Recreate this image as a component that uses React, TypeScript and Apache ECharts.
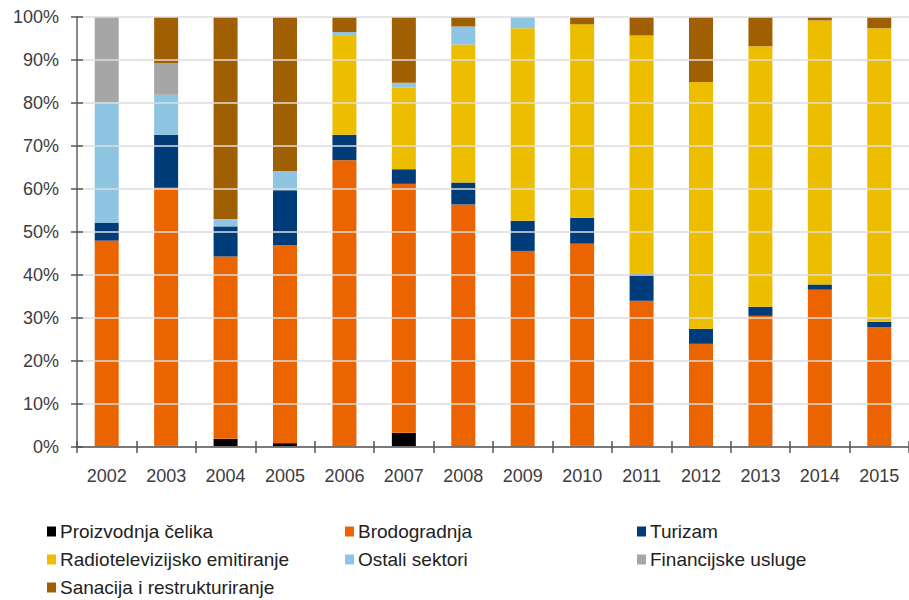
import React, { useEffect, useRef } from "react";
import * as echarts from "echarts";

const years = ["2002", "2003", "2004", "2005", "2006", "2007", "2008", "2009", "2010", "2011", "2012", "2013", "2014", "2015"];
const proizvodnjaCelika = [0, 0.3, 1.9, 0.9, 0, 3.3, 0, 0, 0.3, 0, 0, 0, 0, 0];
const brodogradnja = [48.0, 60.0, 42.4, 46.0, 66.7, 57.9, 56.4, 45.6, 47.0, 34.0, 24.0, 30.5, 36.6, 27.9];
const turizam = [4.1, 12.3, 7.0, 12.8, 5.9, 3.4, 5.1, 7.0, 6.0, 6.3, 3.5, 2.1, 1.2, 1.2];
const radiotelevizijsko = [0, 0, 0, 0, 23.0, 19.0, 32.1, 44.8, 45.0, 55.4, 57.4, 60.6, 61.4, 68.3];
const ostaliSektori = [28.1, 9.3, 1.7, 4.5, 0.9, 1.1, 4.2, 2.6, 0, 0, 0, 0, 0, 0];
const financijskeUsluge = [19.8, 7.4, 0, 0, 0, 0, 0, 0, 0, 0, 0, 0, 0, 0];
const sanacija = [0, 10.7, 47.0, 35.8, 3.5, 15.3, 2.2, 0, 1.7, 4.3, 15.1, 6.8, 0.8, 2.6];
const yTicks = [0, 10, 20, 30, 40, 50, 60, 70, 80, 90, 100];

const FONT = "'Liberation Sans', Arial, sans-serif";
const TXT = "#3c3c3c";

export default function App() {
  const ref = useRef<HTMLDivElement>(null);
  useEffect(() => {
    if (!ref.current) return;
    const chart = echarts.init(ref.current, undefined, { renderer: "svg" });
    const seriesDefs = [
      { name: "Proizvodnja čelika", data: proizvodnjaCelika, color: "#000000" },
      { name: "Brodogradnja", data: brodogradnja, color: "#EB6400" },
      { name: "Turizam", data: turizam, color: "#003B7A" },
      { name: "Radiotelevizijsko emitiranje", data: radiotelevizijsko, color: "#EDBD00" },
      { name: "Ostali sektori", data: ostaliSektori, color: "#8EC5E2" },
      { name: "Financijske usluge", data: financijskeUsluge, color: "#A6A6A6" },
      { name: "Sanacija i restrukturiranje", data: sanacija, color: "#A05F00" },
    ];
    const legendBase = {
      orient: "vertical" as const,
      top: 522,
      padding: 0,
      itemWidth: 9,
      itemHeight: 10,
      itemGap: 9,
      icon: "rect",
      textStyle: { fontFamily: FONT, fontSize: 19, color: "#222", padding: [0, 0, 0, -1] },
    };
    chart.setOption({
      animation: false,
      backgroundColor: "#ffffff",
      grid: { left: 77, right: -8, top: 17, bottom: 153, containLabel: false },
      legend: [
        { ...legendBase, left: 47, data: ["Proizvodnja čelika", "Radiotelevizijsko emitiranje", "Sanacija i restrukturiranje"] },
        { ...legendBase, left: 345, data: ["Brodogradnja", "Ostali sektori"] },
        { ...legendBase, left: 637, data: ["Turizam", "Financijske usluge"] },
      ],
      xAxis: [
        {
          type: "category",
          data: years,
          position: "bottom",
          boundaryGap: true,
          axisLine: { show: true, lineStyle: { color: "#555555", width: 1.5 } },
          axisTick: { show: true, interval: 0, length: 6, lineStyle: { color: "#555555", width: 1.5 } },
          axisLabel: { interval: 0, fontFamily: FONT, fontSize: 18, color: TXT, margin: 20 },
          splitLine: { show: false },
          z: 10,
        },
        {
          type: "category",
          data: years,
          position: "bottom",
          boundaryGap: true,
          axisLine: { show: false },
          axisTick: { show: true, interval: 0, inside: true, length: 6, lineStyle: { color: "#555555", width: 1.5 } },
          axisLabel: { show: false },
          splitLine: { show: false },
          z: 10,
        },
      ],
      yAxis: [
        {
          type: "value",
          min: 0,
          max: 100,
          interval: 10,
          position: "left",
          axisLine: { show: true, lineStyle: { color: "#8a8a8a", width: 2 } },
          axisTick: { show: true, length: 6, lineStyle: { color: "#555555", width: 1.5 } },
          axisLabel: {
            fontFamily: FONT,
            fontSize: 18,
            color: TXT,
            margin: 18,
            formatter: (v: number) => (yTicks.includes(v) ? v + "%" : ""),
          },
          splitLine: { show: true, lineStyle: { color: "#dcdcdc", width: 1.5 } },
          z: 10,
        },
        {
          type: "value",
          min: 0,
          max: 100,
          interval: 10,
          position: "left",
          axisLine: { show: false },
          axisTick: { show: true, inside: true, length: 6, lineStyle: { color: "#555555", width: 1.5 } },
          axisLabel: { show: false },
          splitLine: { show: false },
          z: 10,
        },
      ],
      series: seriesDefs.map((s) => ({
        name: s.name,
        type: "bar",
        stack: "total",
        data: s.data,
        barWidth: 24,
        xAxisIndex: 0,
        yAxisIndex: 0,
        itemStyle: { color: s.color },
        emphasis: { disabled: true },
      })),
    });
    return () => chart.dispose();
  }, []);
  return <div ref={ref} style={{ position: "absolute", left: 0, top: 0, width: 909, height: 600 }} />;
}
